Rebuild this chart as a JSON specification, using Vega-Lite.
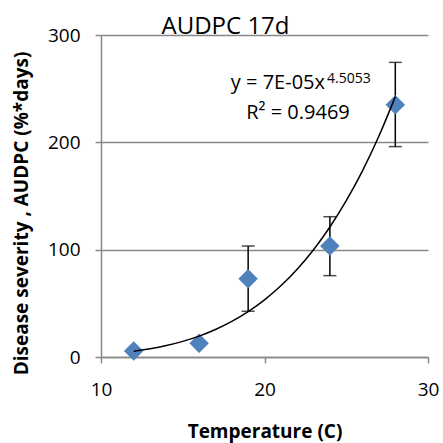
{
  "$schema": "https://vega.github.io/schema/vega-lite/v6.json",
  "width": 327,
  "height": 322,
  "autosize": {"type": "none"},
  "padding": {"left": 101, "top": 35, "right": 15, "bottom": 86},
  "background": "white",
  "config": {"font": "Open Sans", "view": {"stroke": null}},
  "title": {"text": "AUDPC 17d", "fontSize": 24, "fontWeight": "normal", "color": "black", "anchor": "middle", "frame": "group", "dx": -39, "baseline": "alphabetic", "offset": -32},
  "datasets": {
    "obs": [
      {"t": 12, "v": 5.5, "lo": null, "hi": null},
      {"t": 16, "v": 12.7, "lo": null, "hi": null},
      {"t": 19, "v": 73, "lo": 42.6, "hi": 103.4},
      {"t": 24, "v": 103.4, "lo": 75.8, "hi": 130.7},
      {"t": 28, "v": 235, "lo": 196, "hi": 274.5}
    ],
    "fit": [
      {"t": 12, "v": 5.34}, {"t": 13, "v": 7.65}, {"t": 14, "v": 10.68}, {"t": 15, "v": 14.57},
      {"t": 16, "v": 19.49}, {"t": 17, "v": 25.62}, {"t": 18, "v": 33.15}, {"t": 19, "v": 42.29},
      {"t": 20, "v": 53.28}, {"t": 21, "v": 66.38}, {"t": 22, "v": 81.85}, {"t": 23, "v": 100.0},
      {"t": 24, "v": 121.1}, {"t": 25, "v": 145.6}, {"t": 26, "v": 173.7}, {"t": 27, "v": 205.9},
      {"t": 28, "v": 242.6}
    ],
    "notes": [
      {"kind": "eq", "t": 23.7, "v": 249.7, "label": "y = 7E-05x"},
      {"kind": "sup", "t": 23.82, "v": 255.3, "label": "4.5053"},
      {"kind": "r2", "t": 22.05, "v": 221.7, "label": "R² = 0.9469"}
    ]
  },
  "layer": [
    {
      "data": {"name": "obs"},
      "mark": {"type": "rule", "color": "black", "strokeWidth": 1.5},
      "encoding": {
        "x": {"field": "t", "type": "quantitative", "scale": {"domain": [10, 30], "nice": false},
          "axis": {"title": "Temperature (C)", "values": [10, 20, 30], "grid": false,
            "domainColor": "#898989", "domainWidth": 1.5, "tickColor": "#898989", "tickSize": 6, "tickWidth": 1.5,
            "labelFontSize": 19, "labelColor": "black", "labelPadding": 17, "labelFlush": false,
            "titleFontSize": 19, "titleFontWeight": "bold", "titleColor": "black", "titleY": 74, "titleBaseline": "middle"}},
        "y": {"field": "lo", "type": "quantitative", "scale": {"domain": [0, 300], "nice": false},
          "axis": {"title": "Disease severity , AUDPC (%*days)", "values": [0, 100, 200, 300], "grid": true,
            "gridColor": "#898989", "gridWidth": 1.5, "domainColor": "#898989", "domainWidth": 1.5,
            "tickColor": "#898989", "tickSize": 6, "tickWidth": 1.5,
            "labelFontSize": 19, "labelColor": "black", "labelPadding": 15,
            "titleFontSize": 19, "titleFontWeight": "bold", "titleColor": "black",
            "titleAngle": -90, "titleX": -80, "titleY": 178, "titleBaseline": "middle", "titleAlign": "center"}},
        "y2": {"field": "hi"}
      }
    },
    {
      "data": {"name": "obs"},
      "mark": {"type": "tick", "orient": "horizontal", "color": "black", "size": 13, "thickness": 1.5},
      "encoding": {
        "x": {"field": "t", "type": "quantitative"},
        "y": {"field": "lo", "type": "quantitative"}
      }
    },
    {
      "data": {"name": "obs"},
      "mark": {"type": "tick", "orient": "horizontal", "color": "black", "size": 13, "thickness": 1.5},
      "encoding": {
        "x": {"field": "t", "type": "quantitative"},
        "y": {"field": "hi", "type": "quantitative"}
      }
    },
    {
      "data": {"name": "obs"},
      "mark": {"type": "point", "shape": "diamond", "filled": true, "size": 380, "color": "#4F81BD", "opacity": 1},
      "encoding": {
        "x": {"field": "t", "type": "quantitative"},
        "y": {"field": "v", "type": "quantitative"}
      }
    },
    {
      "data": {"name": "fit"},
      "mark": {"type": "line", "color": "black", "strokeWidth": 1.5, "interpolate": "monotone"},
      "encoding": {
        "x": {"field": "t", "type": "quantitative"},
        "y": {"field": "v", "type": "quantitative"}
      }
    },
    {
      "data": {"name": "notes"},
      "transform": [{"filter": "datum.kind === 'eq'"}],
      "mark": {"type": "text", "align": "right", "baseline": "alphabetic", "fontSize": 20, "color": "black"},
      "encoding": {
        "x": {"field": "t", "type": "quantitative"},
        "y": {"field": "v", "type": "quantitative"},
        "text": {"field": "label"}
      }
    },
    {
      "data": {"name": "notes"},
      "transform": [{"filter": "datum.kind === 'sup'"}],
      "mark": {"type": "text", "align": "left", "baseline": "alphabetic", "fontSize": 14, "color": "black"},
      "encoding": {
        "x": {"field": "t", "type": "quantitative"},
        "y": {"field": "v", "type": "quantitative"},
        "text": {"field": "label"}
      }
    },
    {
      "data": {"name": "notes"},
      "transform": [{"filter": "datum.kind === 'r2'"}],
      "mark": {"type": "text", "align": "center", "baseline": "alphabetic", "fontSize": 20, "color": "black"},
      "encoding": {
        "x": {"field": "t", "type": "quantitative"},
        "y": {"field": "v", "type": "quantitative"},
        "text": {"field": "label"}
      }
    }
  ]
}
